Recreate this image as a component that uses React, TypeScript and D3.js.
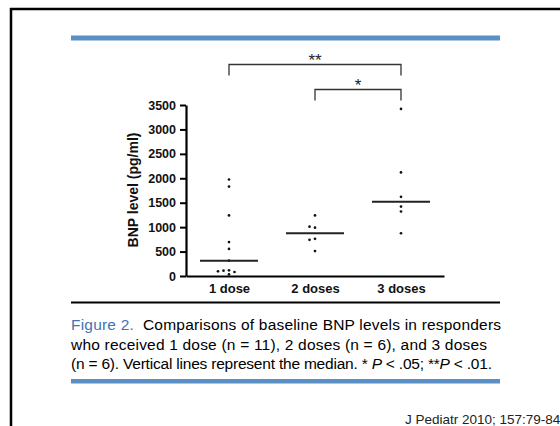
import * as d3 from "d3";
import { useEffect, useRef } from "react";

// Chart values
const categories = ["1 dose", "2 doses", "3 doses"];
const dose1 = [1975, 1830, 1240, 695, 555, 313, 35, 108, 82, 117, 96];
const dose2 = [1240, 990, 1010, 760, 740, 510];
const dose3 = [3420, 2120, 1620, 1420, 1320, 875];
const yTicks = [0, 500, 1000, 1500, 2000, 2500, 3000, 3500];
const compFrom = ["1 dose", "2 doses"];
const compTo = ["3 doses", "3 doses"];
const compLabel = ["**", "*"];

const captionLines = [
  [
    { t: "Figure 2.", blue: true },
    { t: "  Comparisons of baseline BNP levels in responders" },
  ],
  [{ t: "who received 1 dose (n = 11), 2 doses (n = 6), and 3 doses" }],
  [
    { t: "(n = 6). Vertical lines represent the median. * " },
    { t: "P", it: true },
    { t: " < .05; **" },
    { t: "P", it: true },
    { t: " < .01." },
  ],
];
const captionWidths = [430, 416, 421];

const width = 560;
const height = 426;
const axisX = 186;
const axisBottom = 276;
const axisTop = 105;
const blue = "#5b90c6";

const App = () => {
  const containerRef = useRef<HTMLDivElement>(null);

  useEffect(() => {
    const container = containerRef.current;
    if (!container) return;
    container.innerHTML = "";

    const svg = d3
      .select(container)
      .append("svg")
      .attr("width", width)
      .attr("height", height)
      .style("position", "absolute")
      .style("left", "0px")
      .style("top", "0px")
      .style("background", "#fff")
      .style("font-family", "'Liberation Sans', Arial, sans-serif");

    // page frame
    svg.append("line").attr("x1", 10).attr("x2", width).attr("y1", 9).attr("y2", 9)
      .attr("stroke", "#000").attr("stroke-width", 2.5);
    svg.append("line").attr("x1", 11).attr("x2", 11).attr("y1", 8).attr("y2", height)
      .attr("stroke", "#000").attr("stroke-width", 2.5);

    // blue rules
    svg.append("rect").attr("x", 71).attr("y", 35.5).attr("width", 429).attr("height", 5).attr("fill", blue);
    svg.append("rect").attr("x", 71).attr("y", 379).attr("width", 429).attr("height", 4.5).attr("fill", blue);
    svg.append("rect").attr("x", 71).attr("y", 301.5).attr("width", 429).attr("height", 2).attr("fill", "#000");

    const x = d3.scalePoint().domain(categories).range([axisX, 444]).padding(0.5);
    const y = d3.scaleLinear().domain([0, 3500]).range([axisBottom, axisTop]);

    // y axis
    const gy = svg.append("g")
      .attr("transform", `translate(${axisX},0)`)
      .call(d3.axisLeft(y).tickValues(yTicks).tickSize(6).tickSizeOuter(0).tickPadding(4).tickFormat(d3.format("d")));
    gy.select(".domain").attr("stroke-width", 2.2);
    gy.selectAll(".tick line").attr("stroke-width", 2);
    gy.selectAll(".tick text").attr("font-size", 12.5).attr("font-weight", "bold")
      .attr("font-family", "'Liberation Sans', Arial, sans-serif").attr("fill", "#111");

    // x axis
    const gx = svg.append("g")
      .attr("transform", `translate(0,${axisBottom})`)
      .call(d3.axisBottom(x).tickSize(0).tickSizeOuter(0).tickPadding(8));
    gx.select(".domain").attr("stroke-width", 2.2);
    gx.selectAll(".tick text").attr("font-size", 13).attr("font-weight", "bold")
      .attr("font-family", "'Liberation Sans', Arial, sans-serif").attr("fill", "#111");

    // y label
    svg.append("text")
      .attr("transform", `translate(138,190) rotate(-90)`)
      .attr("text-anchor", "middle")
      .attr("font-size", 14)
      .attr("font-weight", "bold")
      .attr("fill", "#111")
      .text("BNP level (pg/ml)");

    // points with a simple dodge so overlapping values spread sideways
    const groups = [dose1, dose2, dose3];
    const step = 5.5;
    const cand = [0, -step, step, -2 * step, 2 * step, -3 * step, 3 * step];
    groups.forEach((vals, gi) => {
      const cx = x(categories[gi]) as number;
      const placed: { dx: number; py: number }[] = [];
      vals.forEach((v) => {
        const py = y(v);
        let dx = 0;
        for (const c of cand) {
          const hit = placed.some((p) => Math.abs(p.py - py) < 4 && Math.abs(p.dx - c) < 4);
          if (!hit) { dx = c; break; }
        }
        placed.push({ dx, py });
        svg.append("circle").attr("cx", cx + dx).attr("cy", py).attr("r", 1.35).attr("fill", "#111");
      });
      const med = d3.median(vals) as number;
      svg.append("line")
        .attr("x1", cx - 29).attr("x2", cx + 29)
        .attr("y1", y(med)).attr("y2", y(med))
        .attr("stroke", "#222").attr("stroke-width", 2);
    });

    // significance brackets
    const rowY = [64.5, 89.5];
    compLabel.forEach((lab, i) => {
      const x1 = x(compFrom[i]) as number;
      const x2 = x(compTo[i]) as number;
      const yy = rowY[i];
      svg.append("path")
        .attr("d", `M${x1},${yy + 11}V${yy}H${x2}V${yy + 11}`)
        .attr("fill", "none").attr("stroke", "#333").attr("stroke-width", 1.3);
      svg.append("text")
        .attr("x", (x1 + x2) / 2).attr("y", yy + 1.5)
        .attr("text-anchor", "middle").attr("font-size", 17).attr("fill", "#222")
        .text(lab);
    });

    // caption
    captionLines.forEach((parts, li) => {
      const t = svg.append("text")
        .attr("x", 71).attr("y", 330 + li * 19.5)
        .attr("font-size", 15.5)
        .attr("fill", "#000")
        .attr("textLength", captionWidths[li])
        .attr("lengthAdjust", "spacing")
        .style("white-space", "pre");
      parts.forEach((p: any) => {
        const s = t.append("tspan").text(p.t);
        if (p.blue) s.attr("fill", "#3f74b5");
        if (p.it) s.attr("font-style", "italic");
      });
    });

    // source
    svg.append("text").attr("x", 405).attr("y", 424).attr("font-size", 13.5).attr("fill", "#222")
      .text("J Pediatr 2010; 157:79-84");
  }, []);

  return <div ref={containerRef}></div>;
};

export default App;
